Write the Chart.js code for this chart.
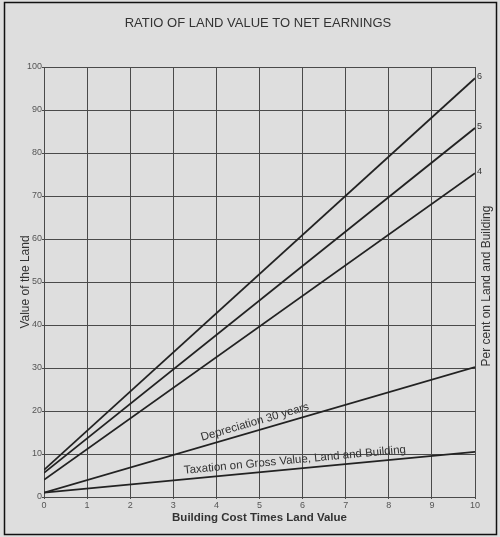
<!DOCTYPE html>
<html>
<head>
<meta charset="utf-8">
<script src="https://cdn.jsdelivr.net/npm/chart.js@4"></script>
<style>
  html, body { margin: 0; padding: 0; background: #dedede; }
  #wrap { width: 500px; height: 537px; position: relative; }
</style>
</head>
<body>
<div id="wrap"><canvas id="chart"></canvas></div>
<script>
// Values (straight lines, so ends only)
const buildingCost = [0, 10];
const percent6 = [6.3, 97.4];
const percent5 = [5.6, 85.8];
const percent4 = [4.0, 75.3];
const depreciation = [1.0, 30.2];
const taxation = [1.0, 10.5];
const lineNames = ['6', '5', '4', 'Depreciation 30 years', 'Taxation on Gross Value, Land and Building'];

const ink = '#222';
const font = "'Liberation Sans', Arial, sans-serif";

function toPoints(ys) {
    return buildingCost.map((x, i) => ({ x: x, y: ys[i] }));
}

const series = [percent6, percent5, percent4, depreciation, taxation];

// Plugin for the extras: frame, end labels, slanted captions, right-hand title
const decor = {
    id: 'decor',
    beforeDraw(chart) {
        const ctx = chart.ctx;
        ctx.save();
        ctx.strokeStyle = '#111';
        ctx.lineWidth = 1.5;
        ctx.strokeRect(4.5, 2.5, 492, 532);
        ctx.restore();
    },
    afterDatasetsDraw(chart) {
        const ctx = chart.ctx;
        const xs = chart.scales.x;
        const ys = chart.scales.y;
        ctx.save();
        ctx.fillStyle = '#333';

        // percent labels at the right end of the first three lines
        ctx.font = '9px ' + font;
        ctx.textAlign = 'left';
        ctx.textBaseline = 'middle';
        [percent6, percent5, percent4].forEach((ys2, i) => {
            const px = xs.getPixelForValue(buildingCost[1]);
            const py = ys.getPixelForValue(ys2[1]);
            ctx.fillText(lineNames[i], px + 2, py - 2);
        });

        // captions along the two lower lines
        const captions = [
            { data: depreciation, at: 4.95, text: lineNames[3], lift: 3 },
            { data: taxation, at: 5.84, text: lineNames[4], lift: 3 }
        ];
        ctx.font = '11.5px ' + font;
        ctx.textAlign = 'center';
        ctx.textBaseline = 'bottom';
        captions.forEach(c => {
            const x0 = xs.getPixelForValue(buildingCost[0]);
            const y0 = ys.getPixelForValue(c.data[0]);
            const x1 = xs.getPixelForValue(buildingCost[1]);
            const y1 = ys.getPixelForValue(c.data[1]);
            const angle = Math.atan2(y1 - y0, x1 - x0);
            const yAt = c.data[0] + (c.data[1] - c.data[0]) * (c.at - buildingCost[0]) / (buildingCost[1] - buildingCost[0]);
            ctx.save();
            ctx.translate(xs.getPixelForValue(c.at), ys.getPixelForValue(yAt));
            ctx.rotate(angle);
            ctx.fillText(c.text, 0, -c.lift);
            ctx.restore();
        });

        // right-hand axis title
        ctx.save();
        ctx.font = '12px ' + font;
        ctx.fillStyle = '#333';
        ctx.textAlign = 'center';
        ctx.textBaseline = 'middle';
        ctx.translate(487, (chart.chartArea.top + chart.chartArea.bottom) / 2 + 4);
        ctx.rotate(-Math.PI / 2);
        ctx.fillText('Per cent on Land and Building', 0, 0);
        ctx.restore();

        ctx.restore();
    }
};

new Chart(document.getElementById('chart'), {
    type: 'line',
    data: {
        datasets: series.map((s, i) => ({
            label: lineNames[i],
            data: toPoints(s),
            borderColor: ink,
            borderWidth: 1.8,
            pointRadius: 0,
            fill: false,
            tension: 0
        }))
    },
    options: {
        responsive: true,
        maintainAspectRatio: false,
        animation: false,
        layout: { padding: { left: 16, right: 0, top: 0, bottom: 0 } },
        plugins: {
            legend: { display: false },
            tooltip: { enabled: false },
            title: {
                display: true,
                text: 'RATIO OF LAND VALUE TO NET EARNINGS',
                color: '#333',
                font: { family: font, size: 13, weight: 'normal' },
                padding: { top: 16, bottom: 35.4 }
            }
        },
        scales: {
            x: {
                type: 'linear',
                min: 0,
                max: 10,
                ticks: { stepSize: 1, color: '#555', font: { family: font, size: 9 }, padding: 1 },
                grid: { color: '#4a4a4a', lineWidth: 1, tickLength: 2 },
                border: { color: '#4a4a4a', width: 1 },
                title: {
                    display: true,
                    text: 'Building Cost Times Land Value',
                    color: '#333',
                    font: { family: font, size: 11.5, weight: 'bold' },
                    padding: { top: 0, bottom: 12 }
                },
                afterFit(scale) { scale.height = 40; }
            },
            y: {
                min: 0,
                max: 100,
                ticks: { stepSize: 10, color: '#555', font: { family: font, size: 9 }, padding: 0 },
                grid: { color: '#4a4a4a', lineWidth: 1, tickLength: 2 },
                border: { color: '#4a4a4a', width: 1 },
                title: {
                    display: true,
                    text: 'Value of the Land',
                    color: '#333',
                    font: { family: font, size: 12 },
                    padding: { top: 2, bottom: 0 }
                },
                afterFit(scale) { scale.width = 28; }
            },
            // empty right-hand strip for the percent labels and title
            y2: {
                position: 'right',
                min: 0,
                max: 100,
                ticks: { display: false },
                grid: { display: false },
                border: { display: false },
                afterFit(scale) { scale.width = 25; }
            }
        }
    },
    plugins: [decor]
});
</script>
</body>
</html>
